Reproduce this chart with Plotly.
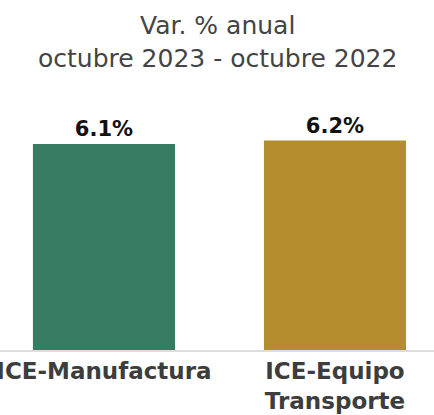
import plotly.graph_objects as go

categories = ["ICE-Manufactura", "ICE-Equipo<br>Transporte"]
values = [6.1, 6.2]
value_labels = ["6.1%", "6.2%"]
colors = ["#377B63", "#B38D30"]
title_text = "Var. % anual<br>octubre 2023 - octubre 2022"

fig = go.Figure(go.Bar(
    x=categories,
    y=values,
    text=value_labels,
    textposition="outside",
    textfont=dict(family="DejaVu Sans", size=21, color="#111111", weight="bold"),
    marker=dict(color=colors, line=dict(width=0)),
    cliponaxis=False,
    hoverinfo="skip",
))

fig.add_annotation(
    text=title_text,
    xref="paper", yref="paper", x=0.5, y=1.365,
    xanchor="center", yanchor="top", showarrow=False,
    font=dict(family="DejaVu Sans", size=25, color="#444444"),
)

fig.update_layout(
    width=434, height=415,
    margin=dict(l=0, r=0, t=100, b=65),
    paper_bgcolor="white", plot_bgcolor="white",
    bargap=0.385,
    showlegend=False,
    xaxis=dict(
        range=[-0.45, 1.4286],
        showline=True, linecolor="#DDDDDD", linewidth=1.5,
        ticks="", showgrid=False, automargin=False,
        tickfont=dict(family="DejaVu Sans", size=23, color="#3D3D3D", weight="bold"),
    ),
    yaxis=dict(range=[0, 7.4], visible=False, showgrid=False),
)

fig.write_html("out.html", config={"displayModeBar": False},
               post_script="document.body.style.margin='0';")
